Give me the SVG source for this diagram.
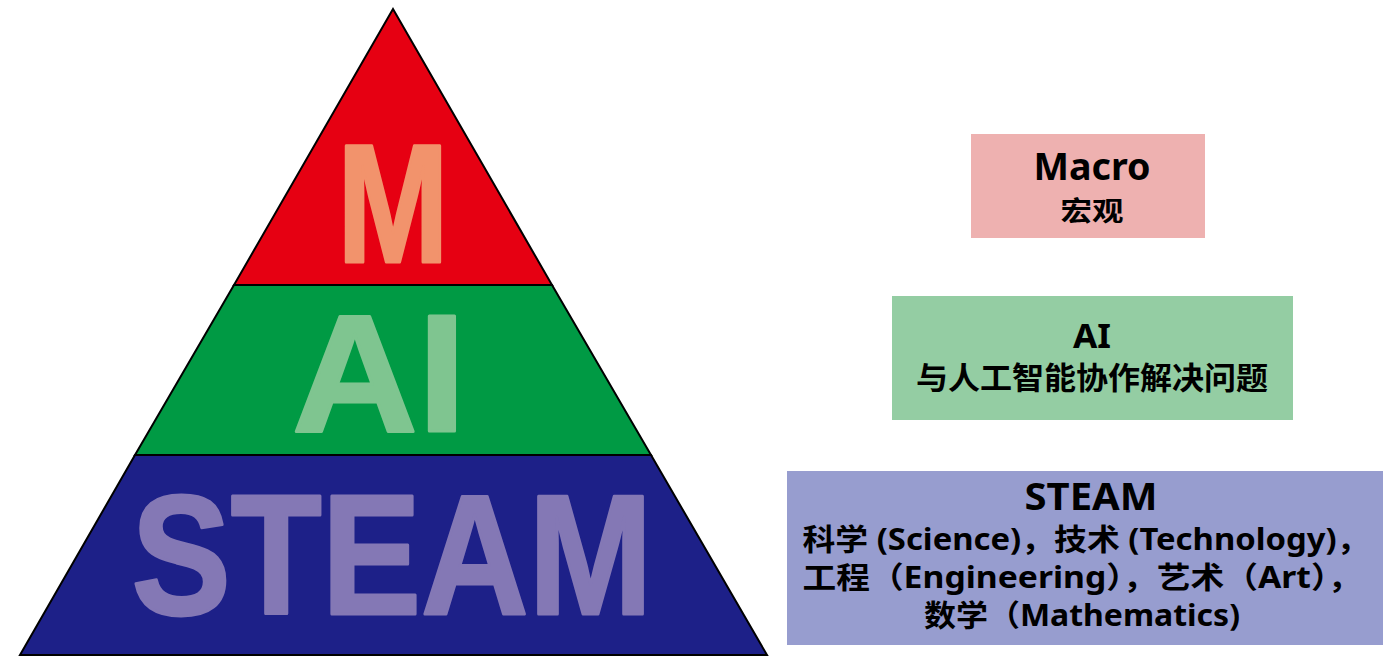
<svg xmlns="http://www.w3.org/2000/svg" width="1400" height="656" viewBox="0 0 1400 656">
<style>
.big{font-family:"Liberation Sans",Arial,sans-serif;font-weight:bold;text-anchor:middle;stroke-width:3;stroke-linejoin:round}
.t{font-family:"Noto Sans","Open Sans","Noto Sans CJK SC",sans-serif;font-weight:bold;text-anchor:middle;fill:#000}
.c{font-family:"Noto Sans","Noto Sans CJK SC",sans-serif;font-weight:bold;text-anchor:middle;fill:#000}
.band{stroke:#000;stroke-width:2;stroke-linejoin:miter}
</style>
<rect width="1400" height="656" fill="#fff"/>
<g id="pyramid">
<g id="level-m">
<polygon class="band" points="393,9 552,285 234,285" fill="#E60012"/>
<text class="big" x="393" y="262" font-size="168" fill="#F2936C" stroke="#F2936C" textLength="112" lengthAdjust="spacingAndGlyphs">M</text>
</g>
<g id="level-ai">
<polygon class="band" points="234,285 552,285 651,455 135,455" fill="#009A44"/>
<text class="big" x="379" y="431" font-size="167" fill="#7FC590" stroke="#7FC590" textLength="174" lengthAdjust="spacingAndGlyphs">AI</text>
</g>
<g id="level-steam">
<polygon class="band" points="135,455 651,455 767,655 20,655" fill="#1D2088"/>
<text class="big" x="392" y="614" font-size="170" fill="#8478B5" stroke="#8478B5" textLength="521" lengthAdjust="spacingAndGlyphs">STEAM</text>
</g>
</g>
<g id="connectors"></g>
<g id="box-macro">
<rect x="971" y="134" width="234" height="104" fill="#EEB1B0"/>
<text class="t" x="1092" y="180" font-size="38" textLength="117" lengthAdjust="spacingAndGlyphs">Macro</text>
<text class="c" x="1092" y="221" font-size="27" textLength="63" lengthAdjust="spacingAndGlyphs">宏观</text>
</g>
<g id="box-ai">
<rect x="892" y="296" width="401" height="124" fill="#94CDA3"/>
<text class="t" x="1092" y="348" font-size="34" textLength="38" lengthAdjust="spacingAndGlyphs">AI</text>
<text class="c" x="1092" y="389" font-size="31" textLength="352" lengthAdjust="spacingAndGlyphs">与人工智能协作解决问题</text>
</g>
<g id="box-steam">
<rect x="787" y="471" width="596" height="174" fill="#979DCF"/>
<text class="t" x="1091" y="510" font-size="37" textLength="133" lengthAdjust="spacingAndGlyphs">STEAM</text>
<text class="c" x="1086" y="550" font-size="30" textLength="567" lengthAdjust="spacingAndGlyphs">科学 (Science)，技术 (Technology)，</text>
<text class="c" x="1082" y="588" font-size="30" textLength="559" lengthAdjust="spacingAndGlyphs">工程（Engineering），艺术（Art），</text>
<text class="c" x="1082" y="626" font-size="30" textLength="316" lengthAdjust="spacingAndGlyphs">数学（Mathematics)</text>
</g>
</svg>
